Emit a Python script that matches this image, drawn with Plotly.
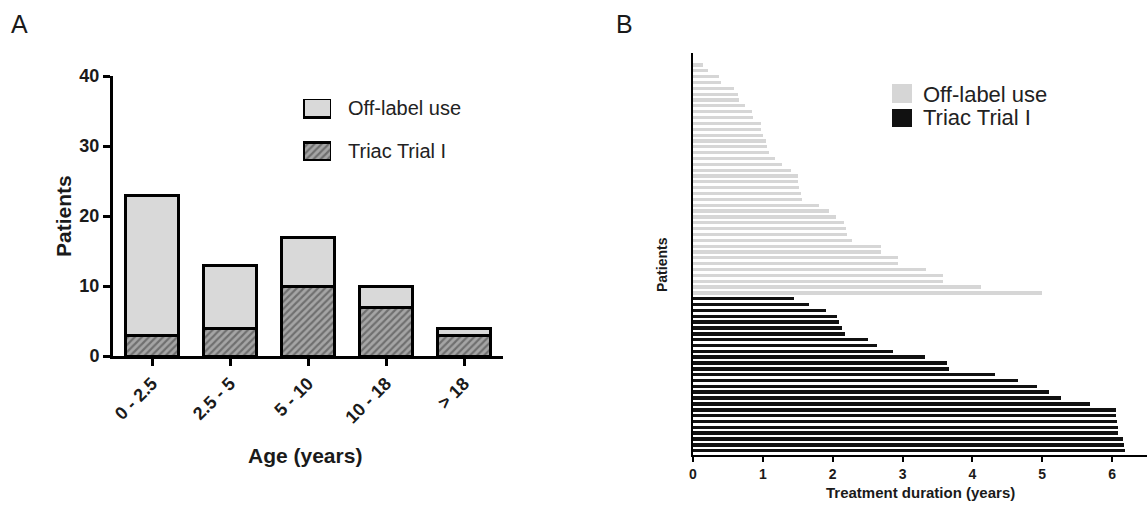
import plotly.graph_objects as go

# ---------------- Panel A data ----------------
age_groups = ["0 - 2.5", "2.5 - 5", "5 - 10", "10 - 18", "> 18"]
triac_counts = [3, 4, 10, 7, 3]
offlabel_counts = [20, 9, 7, 3, 1]

# ---------------- Panel B data (years, top to bottom) ----------------
offlabel_durations = [0.14, 0.22, 0.37, 0.40, 0.58, 0.65, 0.66, 0.75, 0.84, 0.86,
                      0.97, 0.98, 1.00, 1.05, 1.06, 1.09, 1.18, 1.28, 1.40, 1.50,
                      1.51, 1.52, 1.55, 1.56, 1.81, 1.95, 2.05, 2.16, 2.19, 2.20,
                      2.28, 2.69, 2.69, 2.94, 2.94, 3.33, 3.58, 3.58, 4.13, 4.99]
triac_durations = [1.45, 1.66, 1.90, 2.06, 2.09, 2.14, 2.18, 2.50, 2.64, 2.86,
                   3.32, 3.64, 3.67, 4.32, 4.66, 4.92, 5.09, 5.27, 5.68, 6.05,
                   6.06, 6.07, 6.09, 6.09, 6.16, 6.17, 6.19]
b_xticks = [0, 1, 2, 3, 4, 5, 6]

legend_labels = ["Off-label use", "Triac Trial I"]

W, H = 1148, 507
FONT = "Liberation Sans, Arial, sans-serif"
LIGHT = "#d9d9d9"


def px_x(p):
    return p / W


def px_y(p):
    return 1 - p / H


fig = go.Figure()

hatch = dict(shape="/", fgcolor="#3a3a3a", bgcolor="#a5a5a5", size=5, solidity=0.45)

# Panel A stacked bars
fig.add_trace(go.Bar(x=age_groups, y=triac_counts, width=0.68,
                     marker=dict(color="#a5a5a5", pattern=hatch,
                                 line=dict(color="black", width=3)),
                     showlegend=False, xaxis="x", yaxis="y"))
fig.add_trace(go.Bar(x=age_groups, y=offlabel_counts, width=0.68,
                     marker=dict(color=LIGHT, line=dict(color="black", width=3)),
                     showlegend=False, xaxis="x", yaxis="y"))

# Panel B horizontal bars
n_off = len(offlabel_durations)
n_tri = len(triac_durations)
total = n_off + n_tri
off_pos = [total - 1 - i for i in range(n_off)]
tri_pos = [n_tri - 1 - i for i in range(n_tri)]
fig.add_trace(go.Bar(x=offlabel_durations, y=off_pos, orientation="h", width=0.55,
                     marker=dict(color="#d6d6d6", line=dict(width=0)),
                     showlegend=False, xaxis="x2", yaxis="y2"))
fig.add_trace(go.Bar(x=triac_durations, y=tri_pos, orientation="h", width=0.6,
                     marker=dict(color="#111111", line=dict(width=0)),
                     showlegend=False, xaxis="x2", yaxis="y2"))

# Panel A legend swatches (auxiliary axis)
fig.add_trace(go.Bar(x=[1], y=[1], orientation="h", width=0.42,
                     marker=dict(color=LIGHT, line=dict(color="black", width=3)),
                     showlegend=False, xaxis="x3", yaxis="y3", hoverinfo="skip"))
fig.add_trace(go.Bar(x=[1], y=[0], orientation="h", width=0.42,
                     marker=dict(color="#a5a5a5", pattern=hatch,
                                 line=dict(color="black", width=3)),
                     showlegend=False, xaxis="x3", yaxis="y3", hoverinfo="skip"))

tickfont_a = dict(family=FONT, size=18, color="#1a1a1a", weight="bold")
tickfont_b = dict(family=FONT, size=14, color="#1a1a1a", weight="bold")

fig.update_layout(
    width=W, height=H,
    margin=dict(l=0, r=0, t=0, b=0, autoexpand=False),
    paper_bgcolor="white", plot_bgcolor="white",
    barmode="stack",
    showlegend=False,
    font=dict(family=FONT, color="#1a1a1a"),
    xaxis=dict(domain=[px_x(113), px_x(503)], range=[-0.5, 4.5],
               showline=True, linecolor="black", linewidth=3,
               ticks="outside", ticklen=7, tickwidth=3, tickcolor="black",
               tickangle=-45, tickfont=tickfont_a, showgrid=False, zeroline=False,
               anchor="y", fixedrange=True, automargin=False),
    yaxis=dict(domain=[px_y(356), px_y(76)], range=[0, 40],
               tickvals=[0, 10, 20, 30, 40],
               showline=True, linecolor="black", linewidth=3,
               ticks="outside", ticklen=7, tickwidth=3, tickcolor="black",
               tickfont=tickfont_a, showgrid=False, zeroline=False,
               anchor="x", fixedrange=True, automargin=False),
    xaxis2=dict(domain=[px_x(693), px_x(1147)], range=[0, 6.5],
                tickvals=b_xticks,
                showline=True, linecolor="black", linewidth=2,
                ticks="outside", ticklen=5, tickwidth=2, tickcolor="black",
                tickfont=tickfont_b, showgrid=False, zeroline=False,
                anchor="y2", fixedrange=True, automargin=False),
    yaxis2=dict(domain=[px_y(455), px_y(53)], range=[-0.74, 68.05],
                showline=True, linecolor="black", linewidth=2,
                showticklabels=False, ticks="", showgrid=False, zeroline=False,
                anchor="x2", fixedrange=True, automargin=False),
    xaxis3=dict(domain=[px_x(303), px_x(331)], range=[0, 1], visible=False,
                anchor="y3", fixedrange=True, automargin=False),
    yaxis3=dict(domain=[px_y(161), px_y(99)], range=[-0.218, 1.207], visible=False,
                anchor="x3", fixedrange=True, automargin=False),
)


def text_at(txt, x, y, size, angle=0, xanchor="center", color="#1a1a1a"):
    return dict(text=txt, x=px_x(x), y=px_y(y), xref="paper", yref="paper",
                xanchor=xanchor, yanchor="middle", showarrow=False, textangle=angle,
                font=dict(family=FONT, size=size, color=color))


ann = [
    text_at("A", 19, 24, 25),
    text_at("B", 624, 24, 25),
    text_at("<b>Patients</b>", 64, 216, 21, angle=-90),
    text_at("<b>Age (years)</b>", 305, 455, 21),
    text_at(legend_labels[0], 346, 108, 20, xanchor="left", color="#222"),
    text_at(legend_labels[1], 346, 151, 20, xanchor="left", color="#222"),
    text_at("<b>Treatment duration (years)</b>", 920, 492, 15),
    text_at("<b>Patients</b>", 662, 265, 14, angle=-90),
    text_at(legend_labels[0], 921, 94, 22, xanchor="left", color="#222"),
    text_at(legend_labels[1], 921, 118, 22, xanchor="left", color="#222"),
]
fig.update_layout(annotations=ann)

# Panel B legend swatches
fig.add_shape(type="rect", xref="paper", yref="paper",
              x0=px_x(892), x1=px_x(912), y0=px_y(103), y1=px_y(84),
              fillcolor="#d6d6d6", line=dict(width=0))
fig.add_shape(type="rect", xref="paper", yref="paper",
              x0=px_x(892), x1=px_x(912), y0=px_y(127), y1=px_y(109),
              fillcolor="#111111", line=dict(width=0))

fig.write_html("out.html", config={"displayModeBar": False})
